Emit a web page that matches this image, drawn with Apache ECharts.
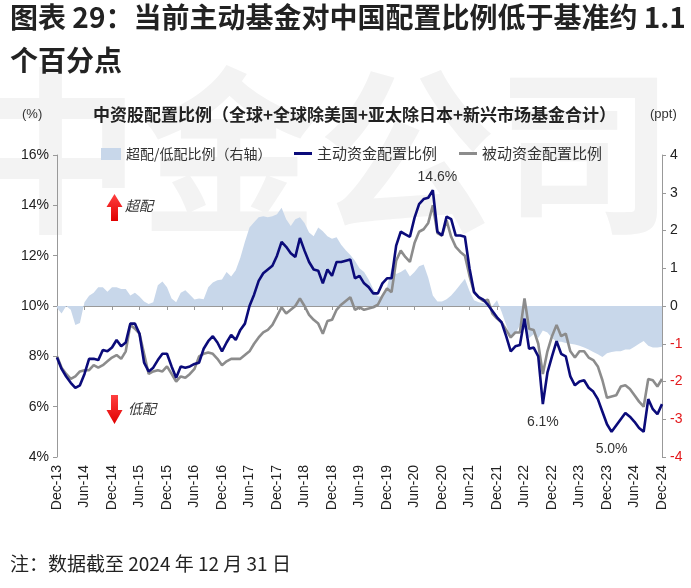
<!DOCTYPE html>
<html><head><meta charset="utf-8">
<script src="https://cdn.jsdelivr.net/npm/echarts@6/dist/echarts.min.js"></script>
<style>html,body{margin:0;padding:0;background:#fff}#c{width:691px;height:588px}</style>
</head><body><div id="c"></div>
<script>
// Monthly data Dec-13 .. Dec-24
const activeShare = [
7.95,7.5,7.2,6.95,6.75,6.85,7.3,7.9,7.9,7.85,8.25,8.2,
8.35,8.65,8.4,8.55,9.3,9.3,8.9,7.75,7.4,7.55,7.85,8.1,
8.1,7.6,7.15,7.6,7.55,7.6,7.7,7.75,8.3,8.6,8.8,8.55,
8.2,8.55,8.85,8.65,9.05,9.3,10.0,10.45,11.0,11.3,11.45,11.6,
12.0,12.55,12.35,12.1,11.95,12.7,12.2,11.75,11.45,11.4,10.9,11.45,
11.2,11.75,11.75,11.8,11.85,11.1,11.2,10.9,10.75,10.5,10.5,10.9,
11.1,11.1,12.4,12.95,12.85,12.75,13.5,14.05,14.25,14.3,14.6,12.95,
12.8,13.55,13.45,12.8,12.8,12.75,11.5,10.55,10.35,10.25,10.05,9.8,
9.55,9.35,8.8,8.2,8.4,8.45,9.5,8.3,8.35,8.0,6.1,7.35,
8.0,8.6,8.1,8.0,7.2,6.85,7.0,7.05,6.75,6.6,6.3,5.8,
5.3,5.0,5.25,5.5,5.75,5.6,5.4,5.15,5.0,6.3,5.9,5.7,
6.1];
const passiveShare = [
8.0,7.55,7.3,7.1,7.2,7.4,7.45,7.45,7.65,7.55,7.65,7.8,
7.95,8.05,7.9,8.2,9.25,9.1,8.9,8.1,7.3,7.4,7.45,7.4,
7.6,7.3,7.0,7.2,7.15,7.3,7.5,8.0,8.1,8.15,8.1,7.9,
7.65,7.8,7.9,7.9,7.9,8.05,8.2,8.5,8.75,8.95,9.05,9.25,
9.6,9.95,9.7,9.85,10.0,10.3,10.0,9.65,9.45,9.3,8.9,9.4,
9.45,9.85,10.05,10.2,10.35,9.85,9.95,9.85,9.9,9.95,10.05,10.4,
10.7,10.55,11.8,12.2,11.95,11.75,12.5,12.95,13.05,13.3,14.0,12.9,
12.8,13.4,12.75,12.35,12.15,12.0,11.2,10.55,10.35,10.2,10.25,9.7,
9.5,9.35,9.05,8.75,8.95,8.95,10.3,9.1,9.05,8.5,7.3,8.2,
8.8,9.25,8.8,8.9,8.2,7.95,8.2,8.2,7.95,7.85,7.6,7.05,
6.35,6.4,6.45,6.8,6.85,6.7,6.45,6.2,6.0,7.1,7.05,6.8,
7.1];
const overUnderPpt = [
-0.05,-0.2,0.0,-0.1,-0.5,-0.45,0.1,0.27,0.35,0.5,0.5,0.38,
0.5,0.5,0.45,0.45,0.28,0.35,0.25,0.12,0.05,0.1,0.55,0.65,
0.5,0.2,0.1,0.35,0.42,0.3,0.17,0.2,0.18,0.5,0.62,0.68,
0.7,0.9,0.78,0.95,1.28,1.7,2.08,2.22,2.35,2.38,2.35,2.38,
2.43,2.6,2.3,2.12,2.3,2.35,2.2,1.95,1.85,2.08,1.98,1.85,
1.78,1.82,1.62,1.48,1.35,1.2,1.0,0.9,0.7,0.45,0.25,0.25,
0.5,1.0,0.85,0.9,0.98,0.78,0.9,1.05,1.1,0.75,0.28,0.12,
0.12,0.18,0.28,0.42,0.57,0.72,0.4,0.15,0.1,0.07,0.03,0.0,
0.15,-0.15,-0.5,-0.85,-0.75,-0.5,-0.6,-0.85,-0.75,-0.85,-0.65,-0.7,
-0.85,-0.95,-0.95,-0.98,-1.0,-1.02,-1.05,-1.1,-1.15,-1.22,-1.28,-1.35,
-1.25,-1.22,-1.2,-1.2,-1.15,-1.15,-1.08,-1.0,-0.93,-1.05,-1.1,-1.1,
-1.08];
const monthNames = ['Jan','Feb','Mar','Apr','May','Jun','Jul','Aug','Sep','Oct','Nov','Dec'];
const categories = activeShare.map((_, i) => monthNames[(11 + i) % 12] + '-' + (13 + Math.floor((11 + i) / 12)));
const annotations = [
  {cat: 'Nov-20', value: 14.6, text: '14.6%', pos: 'top'},
  {cat: 'Oct-22', value: 6.1, text: '6.1%', pos: 'bottom'},
  {cat: 'Jan-24', value: 5.0, text: '5.0%', pos: 'bottom'}
];

const FONT = '"Liberation Sans", "Noto Sans CJK SC", sans-serif';
const CJK = '"Noto Sans CJK SC", "Liberation Sans", sans-serif';
const chart = echarts.init(document.getElementById('c'), null, {renderer: 'canvas'});
const red = new echarts.graphic.LinearGradient(0, 0, 0, 1, [{offset: 0, color: '#ff4040'}, {offset: 1, color: '#e00000'}]);

chart.setOption({
  animation: false,
  backgroundColor: '#fff',
  textStyle: {fontFamily: FONT},
  grid: {left: 57, right: 29, top: 155, bottom: 131, containLabel: false},
  legend: [
    {left: 96, top: 142, itemWidth: 20, itemHeight: 12,
     textStyle: {fontFamily: CJK, fontSize: 14, color: '#333'},
     data: [{name: '超配/低配比例（右轴）', icon: 'rect', itemStyle: {color: '#c8d7ea'}}]},
    {left: 289, top: 141, itemGap: 22, itemWidth: 18, itemHeight: 3, icon: 'rect',
     textStyle: {fontFamily: CJK, fontSize: 15, color: '#333'},
     data: ['主动资金配置比例', '被动资金配置比例']}
  ],
  xAxis: {
    type: 'category', data: categories, boundaryGap: false,
    axisLine: {lineStyle: {color: '#999', width: 1}},
    axisTick: {show: true, interval: (i) => i % 6 === 0, length: 4, lineStyle: {color: '#999'}},
    axisLabel: {interval: (i) => i % 6 === 0, rotate: 90, fontSize: 14, color: '#222', margin: 8, fontFamily: FONT},
    splitLine: {show: false}
  },
  yAxis: [
    {type: 'value', min: 4, max: 16, interval: 2, position: 'left',
     axisLine: {show: true, lineStyle: {color: '#999'}},
     axisTick: {show: true, length: 4, lineStyle: {color: '#999'}},
     axisLabel: {formatter: '{value}%', fontSize: 14, color: '#222', margin: 8},
     splitLine: {show: false}},
    {type: 'value', min: -4, max: 4, interval: 1, position: 'right',
     axisLine: {show: true, lineStyle: {color: '#999'}},
     axisTick: {show: true, length: 4, lineStyle: {color: '#999'}},
     axisLabel: {fontSize: 14, margin: 8, color: (v) => (Number(v) < 0 ? '#e3191c' : '#222')},
     splitLine: {show: false}}
  ],
  series: [
    {name: '超配/低配比例（右轴）', type: 'line', yAxisIndex: 1, data: overUnderPpt, symbol: 'none',
     lineStyle: {width: 0, color: '#c8d7ea'}, itemStyle: {color: '#c8d7ea'},
     areaStyle: {color: '#c8d7ea', opacity: 1}, z: 1},
    {name: '被动资金配置比例', type: 'line', data: passiveShare, symbol: 'none',
     lineStyle: {width: 2.6, color: '#8c8c8c'}, itemStyle: {color: '#8c8c8c'}, z: 3},
    {name: '主动资金配置比例', type: 'line', data: activeShare, symbol: 'none',
     lineStyle: {width: 2.6, color: '#0b0b7a'}, itemStyle: {color: '#0b0b7a'}, z: 4,
     markPoint: {
       symbol: 'circle', symbolSize: 1, itemStyle: {color: 'rgba(0,0,0,0)'},
       data: annotations.map(a => ({
         coord: [a.cat, a.value],
         label: {show: true, formatter: a.text, position: a.pos, distance: a.pos === 'top' ? 6 : 10,
                 fontSize: 14, color: '#333', fontFamily: FONT}
       }))
     }}
  ],
  graphic: [
    {type: 'text', z: -10, left: -38, top: 62, silent: true,
     style: {text: '中金公司', font: 'bold 178px "Noto Sans CJK SC"', fill: '#f3f3f3'}},
    {type: 'text', left: 10, top: 3,
     style: {text: '图表 29：当前主动基金对中国配置比例低于基准约 1.1', font: 'bold 28px ' + CJK, fill: '#222'}},
    {type: 'text', left: 10, top: 46,
     style: {text: '个百分点', font: 'bold 28px ' + CJK, fill: '#222'}},
    {type: 'text', left: 22, top: 108,
     style: {text: '(%)', font: '13px ' + FONT, fill: '#333'}},
    {type: 'text', left: 650, top: 108,
     style: {text: '(ppt)', font: '13px ' + FONT, fill: '#333'}},
    {type: 'text', left: 93, top: 106,
     style: {text: '中资股配置比例（全球+全球除美国+亚太除日本+新兴市场基金合计）', font: 'bold 17px ' + CJK, fill: '#222'}},
    {type: 'polygon', shape: {points: [[114.5,194],[122.5,207],[118,207],[118,221],[111,221],[111,207],[106.5,207]]}, style: {fill: red}},
    {type: 'text', left: 125, top: 199,
     style: {text: '超配', font: 'italic 14px ' + CJK, fill: '#333'}},
    {type: 'polygon', shape: {points: [[111,395],[118,395],[118,410],[122.5,410],[114.5,424],[106.5,410],[111,410]]}, style: {fill: red}},
    {type: 'text', left: 128, top: 402,
     style: {text: '低配', font: 'italic 14px ' + CJK, fill: '#333'}},
    {type: 'text', left: 10, top: 554,
     style: {text: '注：数据截至 2024 年 12 月 31 日', font: '19px ' + CJK, fill: '#222'}}
  ]
});
</script></body></html>
